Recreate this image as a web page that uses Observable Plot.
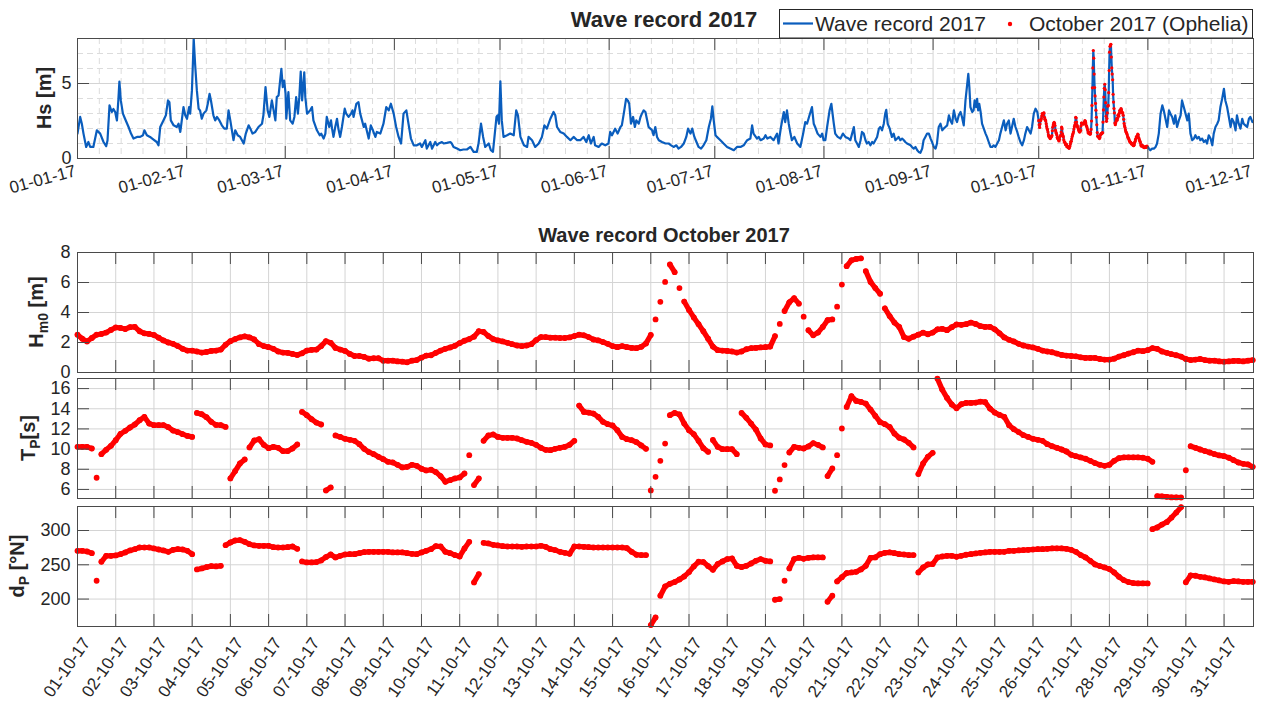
<!DOCTYPE html>
<html><head><meta charset="utf-8">
<script src="https://cdn.jsdelivr.net/npm/d3@7"></script>
<script src="https://cdn.jsdelivr.net/npm/@observablehq/plot@0.6"></script>
<style>
body{margin:0;background:#fff;}
#wrap{position:relative;width:1261px;height:708px;overflow:hidden;background:#fff;}
#wrap svg{position:absolute;left:0;}
</style></head><body><div id="wrap"></div>
<script>
// ---------- DATA ----------
// Hs record 2017: [day of year (0 = 1 Jan), Hs in m]
const hsJanApr = [[0,1.66],[0.76,2.77],[1.23,2.32],[1.7,1.66],[2.46,0.77],[3.1,1.1],[3.6,0.77],[4.5,0.77],[5.5,1.88],[6.44,1.66],[7.39,1.1],[8.14,0.82],[8.52,1.2],[9.09,3.54],[9.75,3.1],[10.2,3.3],[10.7,3.1],[11.2,2.54],[11.6,3.87],[11.9,5.13],[12.3,3.87],[12.9,2.99],[13.5,2.65],[14.5,2.1],[15.2,1.66],[15.9,1.33],[16.9,1.44],[17.8,1.44],[18.6,1.55],[19.0,1.88],[19.7,1.55],[20.6,1.44],[21.6,1.26],[22.5,1.1],[23.0,0.88],[23.5,2.1],[24.4,2.54],[25.1,2.88],[25.7,3.87],[26.1,3.76],[26.5,2.54],[27.3,2.21],[28.2,2.1],[28.7,2.32],[29.2,1.77],[30.1,3.43],[30.6,2.88],[31.1,2.65],[31.7,3.43],[32.0,2.99],[32.5,4.54],[32.8,6.53],[33.0,8.0],[33.4,6.3],[33.9,4.54],[34.4,3.32],[34.8,3.21],[35.3,2.65],[35.8,2.99],[36.6,3.21],[37.0,3.65],[37.5,4.31],[37.9,3.87],[38.6,2.88],[39.1,2.54],[39.6,2.77],[40.3,2.54],[41.0,2.21],[41.7,1.99],[42.4,1.99],[42.9,3.21],[43.4,2.54],[44.3,1.22],[44.8,1.88],[45.5,1.55],[46.2,1.44],[47.2,1.0],[47.8,1.66],[48.6,2.21],[49.1,1.99],[49.7,1.66],[50.5,1.77],[51.4,2.1],[52.4,2.32],[52.8,2.88],[53.4,4.76],[54.0,3.21],[54.5,2.77],[55.2,3.87],[55.7,3.21],[56.2,2.54],[56.6,4.09],[57.1,4.2],[57.9,5.97],[58.3,4.76],[58.7,5.2],[59.1,4.31],[59.3,2.65],[59.9,4.42],[60.4,2.54],[61.1,2.32],[61.6,2.77],[62.1,4.09],[62.6,2.99],[63.0,4.09],[63.4,5.8],[63.8,3.87],[64.4,5.75],[64.7,4.09],[65.2,2.99],[66.1,3.21],[66.6,3.43],[67.0,2.54],[68.0,1.88],[68.8,1.55],[69.2,1.66],[69.9,1.33],[70.4,1.66],[70.8,2.77],[71.5,2.1],[72.0,2.54],[72.3,1.99],[72.7,1.44],[73.2,2.1],[73.7,2.65],[74.1,1.99],[74.6,1.44],[75.1,2.1],[75.9,3.32],[76.3,2.99],[77.0,2.77],[77.7,2.99],[78.1,3.21],[78.4,2.77],[79.2,3.65],[79.8,3.76],[80.3,2.99],[81.3,2.1],[81.7,2.32],[82.7,1.33],[83.3,2.21],[83.9,1.88],[84.6,1.44],[85.0,1.77],[86.0,1.66],[86.9,2.32],[87.7,3.43],[88.4,3.21],[89.0,3.65],[89.8,2.99],[90.5,2.1],[91.2,1.44],[91.9,1.0],[92.6,2.99],[93.4,3.21],[94.0,2.32],[94.7,1.33],[95.5,0.88],[96.4,0.88]];
const hsAprAug = [[97.3,1.0],[97.8,0.77],[98.8,1.22],[99.2,0.66],[100.2,1.1],[100.7,0.66],[101.6,1.1],[102.1,0.88],[102.6,1.0],[103.5,1.1],[104.0,1.0],[104.9,1.04],[105.9,1.1],[106.3,1.0],[106.8,0.77],[107.8,0.66],[108.7,0.55],[109.6,0.6],[110.6,0.6],[111.6,0.77],[112.5,0.44],[113.4,0.44],[113.9,1.0],[114.6,2.32],[115.2,1.44],[115.8,0.77],[116.8,1.0],[117.4,0.55],[118.0,0.44],[119.0,2.77],[119.3,2.88],[119.7,2.32],[120.1,5.15],[120.5,2.54],[121.0,1.44],[122.0,1.55],[122.9,1.66],[123.9,1.55],[124.6,3.21],[125.1,2.88],[125.8,1.44],[126.8,0.88],[127.7,0.77],[128.1,1.44],[129.1,1.22],[130.0,0.77],[131.0,1.0],[131.9,1.44],[132.6,2.21],[133.3,1.99],[134.3,2.65],[135.2,3.1],[135.7,2.88],[136.2,2.1],[137.1,1.77],[138.1,1.66],[139.0,1.44],[140.0,1.22],[140.9,1.44],[141.9,1.22],[142.8,1.22],[143.7,1.44],[144.5,1.1],[145.2,1.55],[145.8,1.0],[146.6,1.44],[147.0,0.88],[148.0,0.77],[148.9,1.0],[149.9,0.88],[150.8,1.0],[151.3,1.77],[151.8,1.55],[152.7,1.99],[153.4,1.66],[154.2,2.1],[154.6,2.21],[155.3,3.21],[155.8,3.98],[156.3,3.87],[156.7,3.65],[157.2,2.32],[157.8,2.77],[158.3,2.1],[158.7,2.54],[159.4,2.32],[159.9,2.77],[160.3,2.99],[160.8,3.21],[161.3,3.1],[161.7,2.65],[162.2,2.1],[162.7,1.99],[163.2,1.88],[163.6,1.55],[164.1,2.1],[164.6,1.44],[165.1,1.22],[166.0,1.1],[167.0,1.0],[167.9,1.0],[168.6,0.88],[169.3,0.77],[170.1,0.88],[170.7,0.66],[171.4,0.77],[172.2,1.0],[172.9,1.44],[173.4,1.99],[174.1,1.66],[174.6,1.99],[175.2,1.44],[175.8,1.1],[176.4,0.77],[177.1,0.66],[177.8,0.88],[178.6,1.22],[179.3,2.1],[179.9,2.65],[180.3,3.47],[180.7,2.54],[181.2,1.55],[181.6,1.44],[182.6,1.22],[183.5,1.0],[184.5,0.77],[185.4,0.66],[186.4,0.55],[187.3,0.77],[188.3,0.77],[189.2,0.88],[190.2,1.22],[191.1,1.33],[191.6,2.21],[192.0,1.66],[193.0,1.33],[193.5,1.44],[194.0,1.22],[194.9,1.33],[195.4,1.55],[195.9,1.33],[196.8,1.44],[197.7,1.22],[198.7,1.66],[199.1,1.0],[199.8,2.1],[200.6,3.1],[201.0,2.43],[201.5,3.21],[202.0,2.32],[202.5,1.66],[202.9,1.22],[203.6,1.44],[204.4,1.0],[205.3,0.77],[206.1,1.66],[206.7,2.43],[207.2,2.32],[207.9,2.88],[208.6,3.43],[209.1,2.32],[209.5,2.1],[210.2,1.66],[211.0,1.44],[211.5,1.66],[211.9,1.22],[212.4,1.22],[212.9,2.1],[213.6,3.21],[214.1,3.65],[214.8,2.32],[215.2,1.66],[215.9,1.44],[216.7,1.33],[217.4,1.66],[218.1,1.44]];
const hsAugSep = [[219.0,1.33],[219.5,1.22],[220.0,1.66],[220.5,2.1],[220.9,1.22],[221.4,1.0],[221.9,0.77],[222.4,1.22],[222.8,1.77],[223.3,1.66],[223.8,1.22],[224.2,1.0],[224.7,1.1],[225.2,0.88],[225.7,1.1],[226.1,1.0],[226.6,1.22],[227.1,1.44],[227.6,1.99],[228.0,2.1],[228.5,1.88],[229.0,2.32],[229.4,2.99],[229.7,3.25],[230.1,2.32],[230.7,1.99],[231.3,1.44],[231.8,1.66],[232.3,1.22],[232.8,1.33],[233.2,1.44],[233.7,1.22],[234.2,1.33],[234.7,1.22],[235.1,1.1],[235.6,1.0],[236.6,0.88],[237.0,0.77],[237.5,0.66],[238.0,0.77],[238.5,0.55],[238.9,0.44],[239.4,0.38],[239.9,0.66],[240.3,1.22],[240.8,1.44],[241.3,1.66],[241.8,1.66],[242.3,1.33],[242.7,1.1],[243.2,0.77],[243.7,0.66],[244.1,1.0],[244.6,2.1],[245.1,2.32],[245.6,1.88],[246.0,1.99],[246.5,2.1],[247.0,2.21],[247.5,2.88],[247.9,2.54],[248.4,2.32],[248.9,3.21],[249.4,2.65],[249.8,2.43],[250.3,2.88],[250.8,3.1],[251.2,2.77],[251.7,2.21],[252.2,3.87],[252.7,4.98],[253.0,5.64],[253.3,4.76],[253.6,3.43],[254.1,3.1],[254.5,3.21],[254.8,3.87],[255.2,3.43],[255.5,3.98],[255.8,3.21],[256.1,3.65],[256.5,3.1],[256.9,2.32],[257.4,1.99],[257.9,1.66],[258.3,1.44],[258.8,1.1],[259.3,0.77],[259.8,0.77],[260.2,0.88],[260.7,0.77],[261.2,1.0],[261.7,1.22],[262.1,1.66],[262.6,2.1],[263.1,2.54],[263.6,1.88],[264.0,2.32],[264.5,2.54],[265.0,1.66],[265.4,2.1],[265.9,2.65],[266.4,2.1],[266.9,1.77],[267.3,1.44],[267.8,1.1],[268.3,0.88],[268.8,1.22],[269.2,1.66],[269.7,2.1],[270.2,1.88],[270.7,1.66],[271.1,2.1],[271.6,2.99],[272.1,3.32],[272.6,3.1]];
const hsNov = [[304.0,0.77],[304.3,0.66],[304.7,0.55],[305.2,0.66],[305.7,0.66],[306.2,0.77],[306.6,1.0],[307.1,1.66],[307.6,2.99],[308.1,3.54],[308.5,3.21],[309.0,2.65],[309.5,2.1],[310.0,3.21],[310.4,2.99],[310.9,2.77],[311.4,2.32],[311.8,2.88],[312.3,2.1],[312.8,2.54],[313.3,2.88],[313.7,3.87],[314.2,3.43],[314.7,2.99],[315.2,2.54],[315.6,2.99],[316.1,1.66],[316.6,1.22],[317.1,1.33],[317.5,1.55],[318.0,1.33],[318.5,1.44],[318.9,1.22],[319.4,1.33],[319.9,1.1],[320.4,1.22],[320.8,1.0],[321.3,1.55],[321.8,1.33],[322.3,0.88],[322.7,1.66],[323.2,2.1],[323.7,2.32],[324.1,2.54],[324.6,3.43],[325.1,3.98],[325.6,4.65],[326.0,3.87],[326.5,3.43],[327.0,2.77],[327.5,2.1],[327.9,2.65],[328.4,2.43],[328.9,1.88],[329.3,2.88],[329.8,2.32],[330.3,1.99],[330.8,2.65],[331.2,2.32],[331.7,2.21],[332.2,2.1],[332.7,2.65],[333.1,2.77],[333.7,2.43]];

// October 2017, one value every 3 hours from 01-10-17 00:00
const octStepHours = 3;
const octHm0 = [
2.52,2.25,2.07,2.30,2.52,2.57,2.66,2.84, 3.00,2.97,2.90,3.02,3.04,2.75,2.61,2.57,
2.50,2.32,2.14,2.00,1.91,1.76,1.58,1.46, 1.46,1.40,1.33,1.37,1.44,1.46,1.53,1.85,
2.09,2.23,2.34,2.41,2.34,2.20,1.89,1.76, 1.69,1.58,1.40,1.33,1.31,1.24,1.17,1.28,
1.46,1.51,1.53,1.76,2.09,1.98,1.64,1.53, 1.44,1.24,1.10,1.10,1.04,0.92,0.95,0.95,
0.79,0.79,0.79,0.74,0.72,0.68,0.79,0.83, 0.99,1.13,1.15,1.31,1.46,1.58,1.67,1.78,
1.96,2.12,2.23,2.39,2.75,2.70,2.43,2.23, 2.14,2.07,1.98,1.89,1.80,1.76,1.80,1.89,
2.16,2.36,2.36,2.32,2.32,2.30,2.30,2.34, 2.43,2.52,2.48,2.36,2.20,2.14,2.03,1.91,
1.76,1.69,1.76,1.69,1.64,1.62,1.71,1.94, 2.50,3.54,4.71,6.04,7.20,6.69,5.63,4.73,
4.17,3.67,3.22,2.75,2.25,1.73,1.49,1.46, 1.44,1.40,1.33,1.40,1.55,1.62,1.64,1.67,
1.69,1.73,2.43,3.24,4.10,4.68,4.95,4.59, 3.72,2.82,2.48,2.66,3.04,3.49,3.54,4.39,
5.86,7.09,7.48,7.57,7.61,6.76,6.04,5.63, 5.25,4.28,3.76,3.33,3.04,2.36,2.25,2.39,
2.52,2.66,2.55,2.66,2.88,2.91,2.82,3.02, 3.20,3.18,3.22,3.33,3.24,3.09,3.04,3.04,
2.88,2.61,2.34,2.18,2.07,1.91,1.80,1.73, 1.67,1.58,1.46,1.40,1.35,1.26,1.17,1.13,
1.10,1.08,1.01,0.97,0.97,0.97,0.90,0.86, 0.86,0.92,1.06,1.15,1.26,1.35,1.46,1.42,
1.49,1.62,1.58,1.40,1.31,1.22,1.15,1.06, 0.90,0.83,0.86,0.90,0.83,0.79,0.79,0.74,
0.72,0.74,0.77,0.77,0.74,0.79,0.83];
const octTp = [
10.22,10.22,10.22,10.06,7.16,9.50,9.93,10.32, 10.88,11.51,11.81,12.14,12.44,12.86,13.19,12.53,
12.37,12.37,12.37,12.17,11.84,11.68,11.48,11.31, 11.21,13.59,13.46,13.16,12.70,12.40,12.37,12.20,
7.09,7.82,8.57,8.97,10.16,10.85,10.98,10.42, 10.09,10.22,10.13,9.80,9.80,10.06,10.46,13.69,
13.36,12.96,12.63,12.44,5.90,6.20,11.35,11.21, 11.02,10.92,10.82,10.49,10.03,9.70,9.50,9.23,
9.00,8.74,8.67,8.44,8.18,8.24,8.44,8.34, 8.05,7.88,7.95,7.72,7.32,6.76,6.92,7.09,
7.19,7.58,9.40,6.43,7.09,10.82,11.35,11.45, 11.21,11.12,11.12,11.12,11.05,10.88,10.72,10.62,
10.42,10.13,9.93,9.89,10.03,10.13,10.22,10.42, 10.82,14.32,13.69,13.62,13.52,13.19,12.70,12.47,
12.34,11.87,11.21,10.98,10.88,10.69,10.36,10.03, 5.90,7.25,8.84,10.55,13.36,13.59,13.43,12.53,
11.87,11.48,10.82,10.09,9.73,10.90,10.22,9.99, 9.99,9.99,9.50,13.59,13.10,12.53,11.94,11.05,
10.46,10.36,5.87,6.99,8.41,9.66,10.22,10.13, 10.06,10.26,10.59,10.42,10.16,7.32,8.08,9.40,
12.04,14.18,15.24,14.78,14.68,14.51,13.92,13.29, 12.67,12.47,12.20,11.54,11.12,10.95,10.62,10.16,
7.52,8.57,9.23,9.63,16.99,15.90,15.08,14.42, 14.05,14.45,14.58,14.58,14.61,14.71,14.65,14.02,
13.62,13.39,13.19,12.37,11.97,11.68,11.38,11.21, 11.02,10.92,10.82,10.49,10.29,10.13,9.96,9.76,
9.43,9.30,9.17,9.04,8.84,8.61,8.44,8.34, 8.44,8.84,9.10,9.17,9.17,9.17,9.17,9.14,
9.04,8.74,5.34,5.31,5.27,5.21,5.21,5.20, 7.90,10.29,10.13,9.96,9.80,9.66,9.50,9.37,
9.30,9.14,8.90,8.67,8.54,8.48,8.24];
const octDp = [
270.4,270.4,269.4,267.0,226.7,254.4,263.1,263.1, 263.6,265.5,268.0,270.9,272.8,275.2,275.2,275.2,
273.8,272.3,270.9,268.9,271.8,272.8,272.3,270.4, 265.5,243.2,244.7,246.6,248.1,247.6,248.5,278.6,
282.5,285.4,285.9,283.5,280.1,278.2,277.7,277.7, 277.7,275.7,275.2,275.2,275.7,276.7,273.3,254.9,
253.4,253.4,253.9,256.3,261.2,265.0,260.7,263.1, 265.0,265.5,265.5,267.0,268.4,268.9,268.9,268.9,
268.9,268.9,268.0,268.0,268.0,267.0,266.0,265.5, 268.0,270.4,272.8,277.2,276.7,268.9,267.0,264.1,
262.1,273.8,283.5,224.3,236.4,282.0,281.1,279.1, 278.2,277.2,276.7,276.7,276.7,276.2,276.7,276.7,
276.7,277.7,276.2,272.8,271.4,268.9,267.5,266.0, 276.7,276.7,276.2,275.7,275.2,275.2,275.2,275.2,
275.2,275.2,275.2,274.3,268.9,264.6,264.1,264.1, 162.1,173.3,204.9,218.4,222.3,224.8,228.6,233.0,
239.3,247.6,254.4,253.9,248.1,242.7,251.0,254.9, 258.3,259.2,248.5,246.6,248.5,251.9,255.8,258.3,
255.8,254.9,199.0,200.0,226.7,244.7,258.3,260.2, 258.7,260.2,260.7,260.7,260.7,196.1,204.9,225.7,
232.0,237.9,238.8,239.8,243.2,248.5,260.2,260.7, 265.5,267.5,268.0,267.0,265.5,265.0,264.1,264.1,
238.8,246.1,250.5,251.0,260.7,262.1,263.1,263.1, 261.7,263.1,264.6,265.5,266.5,267.5,268.0,268.9,
268.9,268.9,268.9,270.4,270.4,270.9,271.4,271.8, 272.3,272.8,272.8,273.3,273.8,273.8,273.8,273.3,
271.8,268.9,264.1,260.7,255.8,250.5,248.1,246.1, 243.7,238.8,232.5,227.7,224.8,223.3,222.8,222.8,
222.8,302.0,304.4,308.7,312.1,318.9,326.2,334.0, 224.5,234.5,234.0,232.5,231.6,230.1,228.6,227.2,
225.7,225.2,226.2,225.7,225.2,225.2,225.2];

const hm0Ticks = [0,2,4,6,8];
const tpTicks = [6,8,10,12,14,16];
const dpTicks = [200,250,300];
const hsTicks = [0,5];

// ---------- STYLE / LAYOUT ----------
const FONT = "'Liberation Sans', Arial, Helvetica, sans-serif";
const INK = "#262626";
const EDGE = "#4a4a4a";
const GRID = "#d4d4d4";
const MINOR = "#dcdcdc";
const BLUE = "#0a5dbd";
const RED = "#ff0000";
const W = 1261, ML = 77, MR = 8;
const DAY = 864e5;
const yearStart = Date.UTC(2017,0,1);
const octStart = Date.UTC(2017,9,1);
const toDate = doy => new Date(yearStart + doy * DAY);

const octRecords = octHm0.map((h, i) => ({
  date: new Date(octStart + i * octStepHours * 3600e3), hm0: h, tp: octTp[i], dp: octDp[i]
}));
const yearRecords = [...hsJanApr, ...hsAprAug, ...hsAugSep].map(([d, h]) => ({date: toDate(d), hs: h}))
  .concat(octRecords.map(r => ({date: r.date, hs: r.hm0})))
  .concat(hsNov.map(([d, h]) => ({date: toDate(d), hs: h})));

const months = d3.utcMonth.range(new Date(Date.UTC(2017,0,1)), new Date(Date.UTC(2017,11,2)));
const minorMonths = [];
for (let i = 0; i < months.length - 1; i++) {
  const a = +months[i], b = +months[i+1];
  for (let k = 1; k < 5; k++) minorMonths.push(new Date(a + (b - a) * k / 5));
}
const octDays = d3.utcDay.range(new Date(octStart), new Date(Date.UTC(2017,10,1)));
const octEnd = new Date(octStart + 30.77 * DAY);

const wrap = document.getElementById("wrap");
const fmt = d3.utcFormat("%d-%m-%y");
const baseStyle = {fontFamily: FONT, fontSize: "18px", color: INK, background: "transparent", overflow: "visible"};

function place(svg, top) { svg.style.top = top + "px"; svg.style.position = "absolute"; wrap.appendChild(svg); }

// ---------- TOP PANEL ----------
const TOPH = 120;
const FW = W - ML - MR;
const topPlot = Plot.plot({
  width: W, height: 200, marginLeft: ML, marginRight: MR, marginTop: 38, marginBottom: 42,
  style: baseStyle,
  x: {type: "utc", domain: [new Date(yearStart), new Date(Date.UTC(2017,11,1))], axis: null},
  y: {domain: [0, 8], axis: null},
  marks: [
    Plot.ruleX(minorMonths, {stroke: MINOR, strokeDasharray: "6,4"}),
    Plot.ruleY([1,2,3,4,6,7], {stroke: MINOR, strokeDasharray: "6,4"}),
    Plot.ruleX(months, {stroke: GRID}),
    Plot.ruleY([5], {stroke: GRID}),
    Plot.line(yearRecords, {x: "date", y: "hs", stroke: BLUE, strokeWidth: 2.2, clip: true}),
    Plot.dot(octRecords, {x: "date", y: "hm0", r: 1.6, fill: RED, clip: true}),
    Plot.tickX(months, {x: d => d, insetTop: TOPH - 12, stroke: EDGE}),
    Plot.tickX(months, {x: d => d, insetBottom: TOPH - 12, stroke: EDGE}),
    Plot.tickY(hsTicks, {y: d => d, insetRight: FW - 12, stroke: EDGE}),
    Plot.tickY(hsTicks, {y: d => d, insetLeft: FW - 12, stroke: EDGE}),
    Plot.frame({stroke: EDGE}),
    Plot.axisX(months, {tickSize: 0, tickPadding: 12, dx: -2, tickRotate: -15, tickFormat: fmt, fontSize: 17, label: null}),
    Plot.axisY(hsTicks, {tickSize: 0, tickPadding: 6, fontSize: 18, label: null})
  ]
});
place(topPlot, 0);

// ---------- OCTOBER PANELS ----------
// dense hourly markers read as a solid band: join neighbouring 3-hourly points
// whose vertical step is small (less than ~11 px), leave jumps as separate dots
function joins(key, span, fh) {
  const lim = 11 * span / fh, out = [];
  for (let i = 0; i < octRecords.length - 1; i++) {
    const a = octRecords[i], b = octRecords[i + 1];
    if (Math.abs(b[key] - a[key]) <= lim) out.push({t1: a.date, v1: a[key], t2: b.date, v2: b[key]});
  }
  return out;
}
function octPanel(key, domain, ticks, top, height, marginBottom, withLabels) {
  const fh = height - 20 - marginBottom;
  const marks = [
    Plot.ruleX(octDays, {stroke: GRID}),
    Plot.ruleY(ticks, {stroke: GRID}),
    Plot.link(joins(key, domain[1] - domain[0], fh), {x1: "t1", y1: "v1", x2: "t2", y2: "v2", stroke: RED, strokeWidth: 5.2, strokeLinecap: "round"}),
    Plot.dot(octRecords, {x: "date", y: key, r: 2.9, fill: RED}),
    Plot.tickX(octDays, {x: d => d, insetTop: fh - 12, stroke: EDGE}),
    Plot.tickX(octDays, {x: d => d, insetBottom: fh - 12, stroke: EDGE}),
    Plot.tickY(ticks, {y: d => d, insetRight: FW - 12, stroke: EDGE}),
    Plot.tickY(ticks, {y: d => d, insetLeft: FW - 12, stroke: EDGE}),
    Plot.frame({stroke: EDGE}),
    Plot.axisY(ticks, {tickSize: 0, tickPadding: 7, fontSize: 18, label: null})
  ];
  if (withLabels) marks.push(Plot.axisX(octDays, {tickSize: 0, tickPadding: 13, dx: 9, tickRotate: -55, tickFormat: fmt, fontSize: 17, label: null}));
  const p = Plot.plot({
    width: W, height, marginLeft: ML, marginRight: MR, marginTop: 20, marginBottom,
    style: baseStyle,
    x: {type: "utc", domain: [new Date(octStart), octEnd], axis: null},
    y: {domain, axis: null},
    marks
  });
  place(p, top);
}
octPanel("hm0", [0, 8], hm0Ticks, 232, 160, 20, false);
octPanel("tp", [5.1, 17], tpTicks, 358, 160, 20, false);
octPanel("dp", [160, 335], dpTicks, 486, 222, 82, true);

// ---------- TITLES, LEGEND, AXIS LABELS ----------
const ov = d3.create("svg").attr("width", W).attr("height", 708)
  .style("position", "absolute").style("top", "0px").style("left", "0px")
  .style("pointer-events", "none").attr("font-family", FONT).attr("fill", INK);
ov.append("text").attr("x", 664).attr("y", 27).attr("text-anchor", "middle")
  .attr("font-weight", "bold").attr("font-size", 22).text("Wave record 2017");
ov.append("text").attr("x", 664).attr("y", 242).attr("text-anchor", "middle")
  .attr("font-weight", "bold").attr("font-size", 20).text("Wave record October 2017");

const lg = ov.append("g");
lg.append("rect").attr("x", 779.5).attr("y", 9.5).attr("width", 473).attr("height", 28.5)
  .attr("fill", "#fff").attr("stroke", INK).attr("stroke-width", 1);
lg.append("line").attr("x1", 783).attr("x2", 813).attr("y1", 23.5).attr("y2", 23.5)
  .attr("stroke", BLUE).attr("stroke-width", 2.2);
lg.append("text").attr("x", 815).attr("y", 31).attr("font-size", 21).text("Wave record 2017");
lg.append("circle").attr("cx", 1010).attr("cy", 24).attr("r", 2.2).attr("fill", RED);
lg.append("text").attr("x", 1029).attr("y", 31).attr("font-size", 21).text("October 2017 (Ophelia)");

function ylab(x, y, parts) {
  const t = ov.append("text").attr("transform", `translate(${x},${y}) rotate(-90)`)
    .attr("text-anchor", "middle").attr("font-weight", "bold").attr("font-size", 20);
  let shifted = 0;
  for (const [s, sub] of parts) {
    const ts = t.append("tspan").text(s);
    if (sub) { ts.attr("font-size", 14).attr("dy", 5 - shifted); shifted = 5; }
    else { ts.attr("dy", -shifted); shifted = 0; }
  }
}
ylab(51, 98, [["Hs [m]", false]]);
ylab(43, 312, [["H", false], ["m0", true], [" [m]", false]]);
ylab(35, 438, [["T", false], ["P", true], ["[s]", false]]);
ylab(24, 566, [["d", false], ["P", true], [" [°N]", false]]);
wrap.appendChild(ov.node());
</script></body></html>
